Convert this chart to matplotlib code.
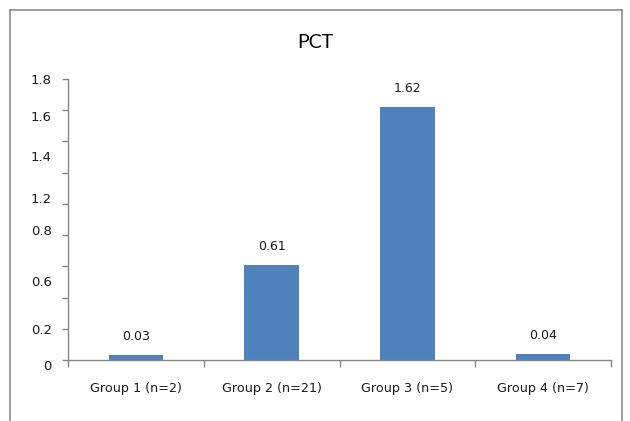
import numpy as np
import matplotlib.pyplot as plt
from matplotlib.lines import Line2D
import matplotlib.transforms as mtransforms

# data
groups = ["Group 1 (n=2)", "Group 2 (n=21)", "Group 3 (n=5)", "Group 4 (n=7)"]
values = [0.03, 0.61, 1.62, 0.04]
title = "PCT"

# y tick labels as printed in the source (they are misplaced there)
ytick_text = ["0", "0.2", "0.6", "0.8", "1.2", "1.4", "1.6", "1.8"]
ytick_text_pos = [-0.043, 0.186, 0.494, 0.822, 1.026, 1.297, 1.553, 1.79]

BAR_COLOR = "#4F81BD"
AXIS_COLOR = "#868686"
TXT = "#1a1a1a"

W, H = 630, 421
fig = plt.figure(figsize=(W/100, H/100), dpi=100)
ax = fig.add_axes([68/W, 1-360/H, (611-68)/W, (360-79)/H])

x = np.arange(len(groups))
ax.bar(x, values, width=0.4, color=BAR_COLOR, zorder=2)
ax.set_xlim(-0.5, len(groups)-0.5)
ax.set_ylim(0, 1.8)

for xi, v in zip(x, values):
    ax.annotate(f"{v:.2f}", (xi, v), xytext=(0, 13.5), textcoords="offset points",
                ha="center", va="center", fontsize=9, color=TXT)

# spines
for s in ["top", "right"]:
    ax.spines[s].set_visible(False)
for s in ["left", "bottom"]:
    ax.spines[s].set_color(AXIS_COLOR)
    ax.spines[s].set_linewidth(1.0)

# y ticks: uniform marks, labels drawn separately
ax.set_yticks(np.arange(0, 1.81, 0.2))
ax.set_yticklabels([])
ax.tick_params(axis="y", length=4, color=AXIS_COLOR, width=1)
trans = mtransforms.blended_transform_factory(ax.transAxes, ax.transData)
for t, p in zip(ytick_text, ytick_text_pos):
    ax.text(-16/(611-68), p, t, transform=trans, ha="right", va="center",
            fontsize=9.5, color=TXT)

# x ticks at category boundaries
ax.set_xticks(np.arange(-0.5, len(groups), 1.0))
ax.set_xticklabels([])
ax.tick_params(axis="x", length=5, color=AXIS_COLOR, width=1)
for xi, g in zip(x, groups):
    ax.text(xi, -28/156, g, ha="center", va="center", fontsize=9.2, color=TXT)

fig.text(315/W, 1-42/H, title, fontsize=14, family="Lato", ha="center", va="center")

# outer chart frame (no bottom edge visible)
fx0, fx1, fy0 = 10/W, 622/W, 1-10/H
for xs, ys in [([fx0, fx0], [0, fy0]), ([fx0, fx1], [fy0, fy0]), ([fx1, fx1], [fy0, 0])]:
    fig.add_artist(Line2D(xs, ys, transform=fig.transFigure, color="#8c8c8c", lw=1.2))

fig.savefig("out.png", dpi=100)
